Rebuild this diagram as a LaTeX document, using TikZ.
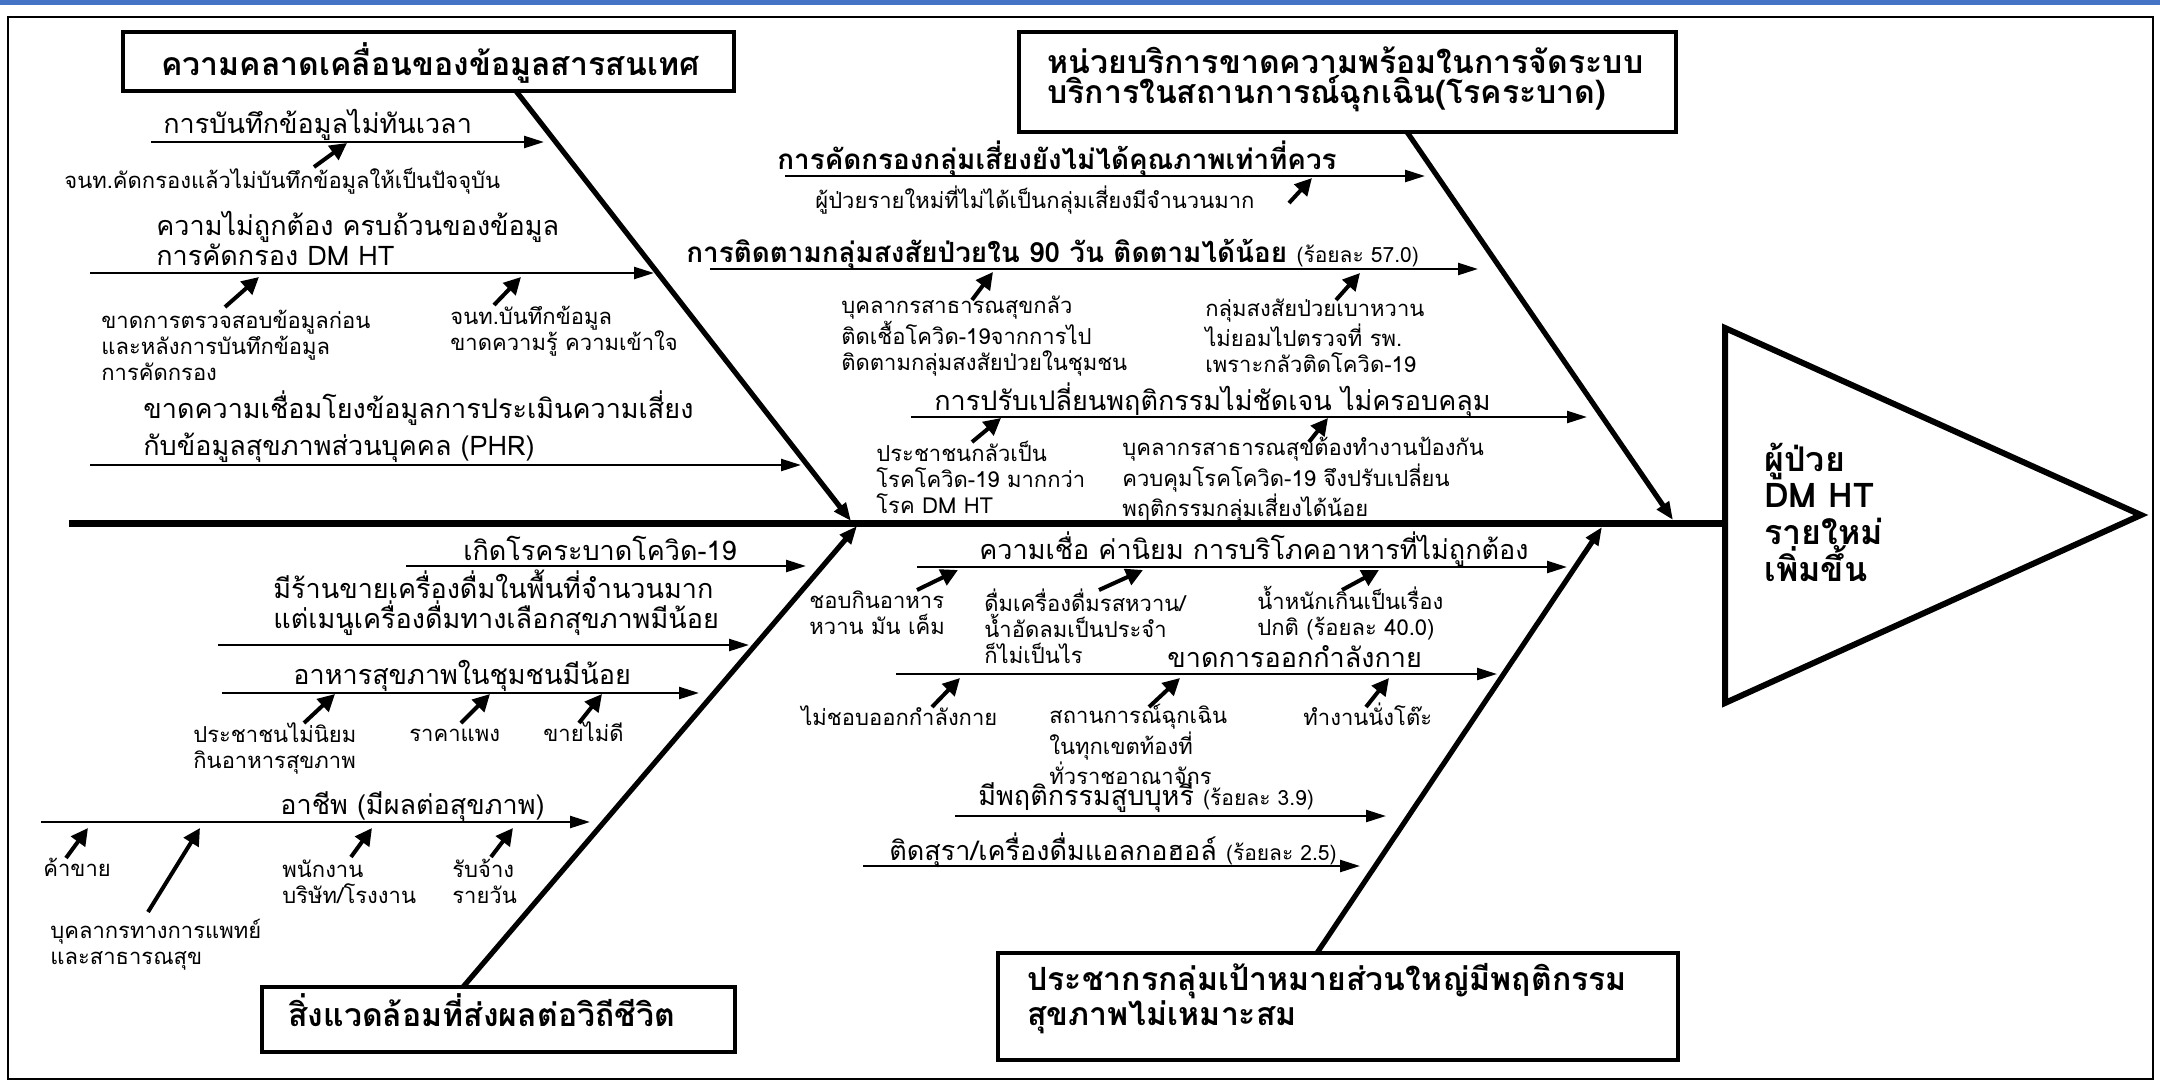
\documentclass[tikz,border=0pt]{standalone}
\usepackage{fontspec}
\usetikzlibrary{arrows.meta}
\newfontfamily\thai[Script=Thai]{Loma}
\definecolor{topblue}{RGB}{68,114,196}
\newcommand\mkarrow[4]{\coordinate (#1a) at #3; \coordinate (#1b) at #4; \draw[#2] (#1a) -- (#1b);}
\begin{document}
\begin{tikzpicture}[x=0.5pt,y=-0.5pt,
  cs/.style={font=\thai\fontsize{11}{13}\selectfont, inner sep=0pt, anchor=west, align=left},
  br/.style={font=\thai\fontsize{13.5}{15}\selectfont, inner sep=0pt, anchor=west, align=left},
  brb/.style={font=\thai\bfseries\fontsize{13.9}{15}\selectfont, inner sep=0pt, anchor=base west, align=left},
  bt/.style={font=\thai\bfseries\fontsize{16}{15}\selectfont, inner sep=0pt, anchor=west, align=left},
  tt/.style={font=\thai\bfseries\fontsize{17}{18.3}\selectfont, inner sep=0pt, anchor=west, align=left},
  one/.style={anchor=base west},
  catbox/.style={draw, line width=2pt, rectangle, inner sep=0pt},
  bone/.style={line width=2.6pt, -{Triangle[length=9pt,width=7pt]}},
  spine/.style={line width=3.5pt},
  branch/.style={line width=1.2pt, -{Triangle[length=10pt,width=6pt]}},
  cause/.style={line width=2pt, -{Triangle[length=8.5pt,width=8.5pt]}}
]
\useasboundingbox (0,0) rectangle (2160,1082);
\fill[white] (0,0) rectangle (2160,1082);
\fill[topblue] (0,0) rectangle (2160,5);
\draw[line width=1pt] (8,17) rectangle (2153,1079);

% category boxes
\node[catbox, minimum width=305.5pt, minimum height=29.5pt] (B1) at (428.5,61.5) {};
\node[bt] (B1t) at (161,63) {ความคลาดเคลื่อนของข้อมูลสารสนเทศ};
\node[catbox, minimum width=328.5pt, minimum height=50pt] (B2) at (1347.5,82) {};
\node[bt] (B2t) at (1047,79) {หน่วยบริการขาดความพร้อมในการจัดระบบ\\บริการในสถานการณ์ฉุกเฉิน(โรคระบาด)};
\node[catbox, minimum width=236.5pt, minimum height=32.5pt] (B3) at (498.5,1019.5) {};
\node[bt] (B3t) at (288,1010) {สิ่งแวดล้อมที่ส่งผลต่อวิถีชีวิต};
\node[catbox, minimum width=340pt, minimum height=53.5pt] (B4) at (1338,1006.5) {};
\node[bt] (B4t) at (1027,998.5) {ประชากรกลุ่มเป้าหมายส่วนใหญ่มีพฤติกรรม\\สุขภาพไม่เหมาะสม};

% head triangle
\coordinate (tA) at (1725,328);
\coordinate (tB) at (2141,515);
\coordinate (tC) at (1725,703);
\draw[line width=3pt, line join=miter] (tA) -- (tB) -- (tC) -- cycle;
\node[tt] (HEAD) at (1764,512) {ผู้ป่วย\\DM HT\\รายใหม่\\เพิ่มขึ้น};

% spine
\coordinate (sp0) at (69,523);
\coordinate (sp1) at (1725,523);
\draw[spine] (sp0) -- (sp1);

% main bones
\mkarrow{bn1}{bone}{(516,91)}{(851,521)}
\mkarrow{bn2}{bone}{(1407,132)}{(1673,520)}
\mkarrow{bn3}{bone}{(463,987)}{(857,526)}
\mkarrow{bn4}{bone}{(1317,953)}{(1602,527)}

% ---------- top-left ----------
\node[br, one] (T1) at (163,133) {การบันทึกข้อมูลไม่ทันเวลา};
\mkarrow{a1}{branch}{(151,142)}{(544,142)}
\mkarrow{c1}{cause}{(314,167)}{(347,143)}
\node[cs, one] (T2) at (64,188) {จนท.คัดกรองแล้วไม่บันทึกข้อมูลให้เป็นปัจจุบัน};
\node[br] (T3) at (156,238) {ความไม่ถูกต้อง ครบถ้วนของข้อมูล\\การคัดกรอง DM HT};
\mkarrow{a2}{branch}{(90,273)}{(654,273)}
\mkarrow{c2}{cause}{(225,307)}{(259,277)}
\mkarrow{c3}{cause}{(494,305)}{(521,277)}
\node[cs] (T4) at (101,345) {ขาดการตรวจสอบข้อมูลก่อน\\และหลังการบันทึกข้อมูล\\การคัดกรอง};
\node[cs] (T5) at (450,331.5) {จนท.บันทึกข้อมูล\\ขาดความรู้ ความเข้าใจ};
\node[br, font=\thai\fontsize{13.5}{18.5}\selectfont] (T6) at (143,426.5) {ขาดความเชื่อมโยงข้อมูลการประเมินความเสี่ยง\\กับข้อมูลสุขภาพส่วนบุคคล (PHR)};
\mkarrow{a3}{branch}{(90,465)}{(801,465)}

% ---------- top-right ----------
\node[brb] (T7) at (777,169) {การคัดกรองกลุ่มเสี่ยงยังไม่ได้คุณภาพเท่าที่ควร};
\mkarrow{a4}{branch}{(785,176)}{(1425,176)}
\node[cs, one] (T8) at (815,208) {ผู้ป่วยรายใหม่ที่ไม่ได้เป็นกลุ่มเสี่ยงมีจำนวนมาก};
\mkarrow{c4}{cause}{(1289,203)}{(1312,178)}
\node[brb] (T9) at (686,262) {การติดตามกลุ่มสงสัยป่วยใน 90 วัน ติดตามได้น้อย {\mdseries\fontsize{10.5}{12}\selectfont(ร้อยละ 57.0)}};
\mkarrow{a5}{branch}{(710,269)}{(1478,269)}
\mkarrow{c5}{cause}{(972,300)}{(993,272)}
\mkarrow{c6}{cause}{(1336,300)}{(1360,273)}
\node[cs] (T10) at (841,336) {บุคลากรสาธารณสุขกลัว\\ติดเชื้อโควิด-19จากการไป\\ติดตามกลุ่มสงสัยป่วยในชุมชน};
\node[cs] (T11) at (1205,336) {กลุ่มสงสัยป่วยเบาหวาน\\ไม่ยอมไปตรวจที่ รพ.\\เพราะกลัวติดโควิด-19};
\node[br, one] (T12) at (934,410) {การปรับเปลี่ยนพฤติกรรมไม่ชัดเจน ไม่ครอบคลุม};
\mkarrow{a6}{branch}{(911,417)}{(1587,417)}
\mkarrow{c7}{cause}{(972,442)}{(1001,418)}
\mkarrow{c8}{cause}{(1309,442)}{(1328,418)}
\node[cs] (T13) at (876,477.5) {ประชาชนกลัวเป็น\\โรคโควิด-19 มากกว่า\\โรค DM HT};
\node[cs] (T14) at (1122,480) {บุคลากรสาธารณสุขต้องทำงานป้องกัน\\ควบคุมโรคโควิด-19 จึงปรับเปลี่ยน\\พฤติกรรมกลุ่มเสี่ยงได้น้อย};

% ---------- bottom-left ----------
\node[br, one] (T15) at (463,560) {เกิดโรคระบาดโควิด-19};
\mkarrow{a7}{branch}{(406,566)}{(806,566)}
\node[br] (T16) at (273,603) {มีร้านขายเครื่องดื่มในพื้นที่จำนวนมาก\\แต่เมนูเครื่องดื่มทางเลือกสุขภาพมีน้อย};
\mkarrow{a8}{branch}{(218,645)}{(749,645)}
\node[br, one] (T17) at (293,684) {อาหารสุขภาพในชุมชนมีน้อย};
\mkarrow{a9}{branch}{(222,693)}{(699,693)}
\mkarrow{c9}{cause}{(304,723)}{(335,694)}
\mkarrow{c10}{cause}{(461,723)}{(490,694)}
\mkarrow{c11}{cause}{(579,723)}{(602,694)}
\node[cs] (T18) at (193,748) {ประชาชนไม่นิยม\\กินอาหารสุขภาพ};
\node[cs, one] (T19) at (409,741) {ราคาแพง};
\node[cs, one] (T20) at (543,741) {ขายไม่ดี};
\node[br, one] (T21) at (280,814) {อาชีพ (มีผลต่อสุขภาพ)};
\mkarrow{a10}{branch}{(41,822)}{(590,822)}
\mkarrow{c12}{cause}{(66,858)}{(88,828)}
\mkarrow{c13}{cause}{(148,912)}{(200,828)}
\mkarrow{c14}{cause}{(351,857)}{(372,828)}
\mkarrow{c15}{cause}{(491,857)}{(513,828)}
\node[cs, one] (T22) at (43,876) {ค้าขาย};
\node[cs] (T23) at (282,881.5) {พนักงาน\\บริษัท/โรงงาน};
\node[cs] (T24) at (452,881.5) {รับจ้าง\\รายวัน};
\node[cs] (T25) at (50,945) {บุคลากรทางการแพทย์\\และสาธารณสุข};

% ---------- bottom-right ----------
\node[br, one] (T26) at (979,559) {ความเชื่อ ค่านิยม การบริโภคอาหารที่ไม่ถูกต้อง};
\mkarrow{a11}{branch}{(917,567)}{(1567,567)}
\mkarrow{c16}{cause}{(917,590)}{(958,570)}
\mkarrow{c17}{cause}{(1099,590)}{(1143,570)}
\mkarrow{c18}{cause}{(1342,590)}{(1379,570)}
\node[cs] (T27) at (809,613) {ชอบกินอาหาร\\หวาน มัน เค็ม};
\node[cs] (T28) at (984,626.5) {ดื่มเครื่องดื่มรสหวาน/\\น้ำอัดลมเป็นประจำ\\ก็ไม่เป็นไร};
\node[cs] (T29) at (1257,613) {น้ำหนักเกินเป็นเรื่อง\\ปกติ (ร้อยละ 40.0)};
\node[br, one] (T30) at (1167,667) {ขาดการออกกำลังกาย};
\mkarrow{a12}{branch}{(896,674)}{(1497,674)}
\mkarrow{c19}{cause}{(932,707)}{(960,678)}
\mkarrow{c20}{cause}{(1149,707)}{(1180,678)}
\mkarrow{c21}{cause}{(1366,707)}{(1389,678)}
\node[cs, one] (T31) at (801,725) {ไม่ชอบออกกำลังกาย};
\node[cs] (T32) at (1049,744.5) {สถานการณ์ฉุกเฉิน\\ในทุกเขตท้องที่\\ทั่วราชอาณาจักร};
\node[cs, one] (T33) at (1303,725) {ทำงานนั่งโต๊ะ};
\node[br, one] (T34) at (978,805) {มีพฤติกรรมสูบบุหรี่ {\fontsize{10.5}{12}\selectfont(ร้อยละ 3.9)}};
\mkarrow{a13}{branch}{(955,816)}{(1386,816)}
\node[br, one] (T35) at (889,860) {ติดสุรา/เครื่องดื่มแอลกอฮอล์ {\fontsize{10.5}{12}\selectfont(ร้อยละ 2.5)}};
\mkarrow{a14}{branch}{(863,866)}{(1360,866)}
\end{tikzpicture}
\end{document}
